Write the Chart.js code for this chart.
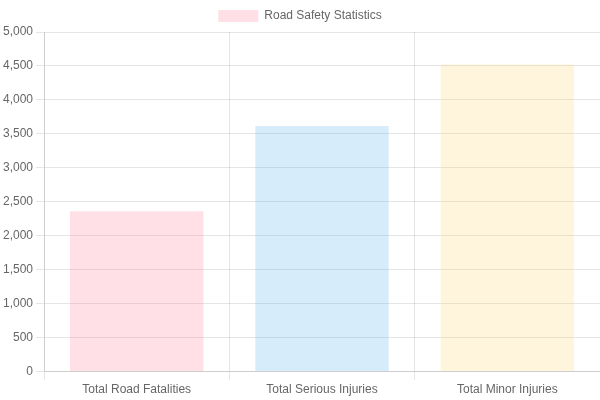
<!DOCTYPE html>
<html>
<head>
<meta charset="utf-8">
<script src="https://cdn.jsdelivr.net/npm/chart.js@4"></script>
<style>
  html, body { margin: 0; padding: 0; background: #fff; }
  #wrap { width: 600px; height: 400px; }
</style>
</head>
<body>
<div id="wrap"><canvas id="roadSafetyChart"></canvas></div>
<script>
// Road safety totals
const categories = ['Total Road Fatalities', 'Total Serious Injuries', 'Total Minor Injuries'];
const totals = [2362, 3615, 4520];
const barColors = ['rgba(255, 99, 132, 0.2)', 'rgba(54, 162, 235, 0.2)', 'rgba(255, 206, 86, 0.2)'];

new Chart(document.getElementById('roadSafetyChart').getContext('2d'), {
  type: 'bar',
  data: {
    labels: categories,
    datasets: [{
      label: 'Road Safety Statistics',
      data: totals,
      backgroundColor: barColors,
      borderWidth: 0
    }]
  },
  options: {
    responsive: true,
    maintainAspectRatio: false,
    animation: false,
    scales: {
      y: { beginAtZero: true, max: 5000, ticks: { stepSize: 500 } }
    }
  }
});
</script>
</body>
</html>
